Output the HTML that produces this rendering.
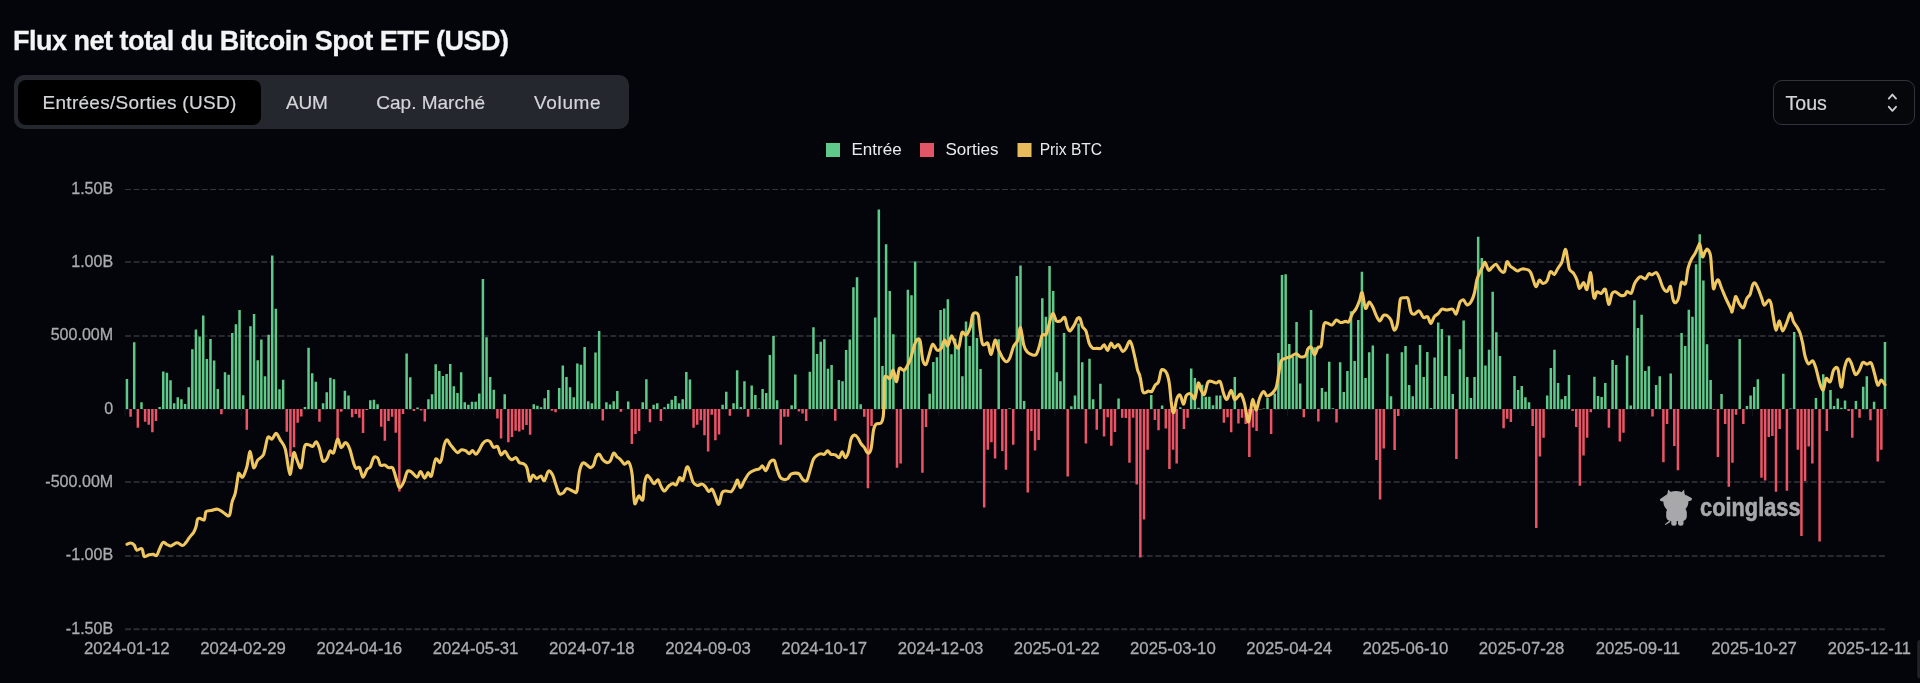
<!DOCTYPE html>
<html><head><meta charset="utf-8"><title>Flux net total du Bitcoin Spot ETF</title>
<style>
html,body{margin:0;padding:0;background:#03050a;}
body{width:1920px;height:683px;overflow:hidden;position:relative;font-family:"Liberation Sans",sans-serif;}
.title{will-change:transform;position:absolute;left:13.4px;top:23px;-webkit-text-stroke:0.3px #f3f4f6;font-size:27px;font-weight:700;color:#f3f4f6;letter-spacing:-0.51px;white-space:nowrap;line-height:36px;}
.tabs{will-change:transform;position:absolute;left:14px;top:75px;width:615px;height:54px;box-sizing:border-box;background:#24272d;border-radius:10px;}
.tab{-webkit-text-stroke:0.2px #d3d5d9;position:absolute;top:0.8px;height:54px;line-height:54px;font-size:19px;color:#d3d5d9;white-space:nowrap;}
.active{position:absolute;left:3.5px;top:4.7px;width:243.7px;height:45px;background:#000;border-radius:8px;}
.sel{will-change:transform;position:absolute;left:1773px;top:80px;width:142px;height:45px;box-sizing:border-box;border:1px solid #31343b;border-radius:9px;background:#05070b;}
.sel span{-webkit-text-stroke:0.2px #d3d5d9;position:absolute;left:11.5px;top:0.5px;line-height:43px;font-size:19.6px;color:#d3d5d9;}
svg text{font-family:"Liberation Sans",sans-serif;}
</style></head><body>
<div class="title">Flux net total du Bitcoin Spot ETF (USD)</div>
<div class="tabs"><div class="active"></div>
<div class="tab" style="left:28.5px;letter-spacing:0.29px">Entrées/Sorties (USD)</div>
<div class="tab" style="left:272px;letter-spacing:-0.2px">AUM</div>
<div class="tab" style="left:362.3px">Cap. Marché</div>
<div class="tab" style="left:520px;letter-spacing:0.66px">Volume</div>
</div>
<div class="sel"><span>Tous</span>
<svg width="14" height="22" viewBox="0 0 14 22" style="position:absolute;left:111px;top:10px"><path d="M3.8 7.6 L7.4 3.6 L11 7.6 M3.8 15.8 L7.4 19.8 L11 15.8" fill="none" stroke="#c9cbd0" stroke-width="1.9" stroke-linecap="round" stroke-linejoin="round"/></svg>
</div>
<svg width="1920" height="683" viewBox="0 0 1920 683" style="position:absolute;left:0;top:0;will-change:transform">
<g><line x1="125.08" x2="1885.2" y1="189.5" y2="189.5" stroke="#34363b" stroke-width="1" stroke-dasharray="5.95 2.564"/><line x1="125.08" x2="1885.2" y1="262" y2="262" stroke="#27292e" stroke-width="2" stroke-dasharray="5.95 2.564"/><line x1="125.08" x2="1885.2" y1="336" y2="336" stroke="#27292e" stroke-width="2" stroke-dasharray="5.95 2.564"/><line x1="125.08" x2="1885.2" y1="482" y2="482" stroke="#27292e" stroke-width="2" stroke-dasharray="5.95 2.564"/><line x1="125.08" x2="1885.2" y1="556" y2="556" stroke="#27292e" stroke-width="2" stroke-dasharray="5.95 2.564"/><line x1="125.08" x2="1885.2" y1="629.25" y2="629.25" stroke="#2c2e33" stroke-width="1.8" stroke-dasharray="5.95 2.564"/><line x1="125.08" x2="1885.2" y1="409.5" y2="409.5" stroke="#1d1f24" stroke-width="1" stroke-dasharray="5.95 2.564"/></g>
<g><line x1="125.13" x2="125.13" y1="410" y2="416" stroke="#15171c" stroke-width="1"/><line x1="241.36" x2="241.36" y1="410" y2="416" stroke="#15171c" stroke-width="1"/><line x1="357.60" x2="357.60" y1="410" y2="416" stroke="#15171c" stroke-width="1"/><line x1="473.83" x2="473.83" y1="410" y2="416" stroke="#15171c" stroke-width="1"/><line x1="590.07" x2="590.07" y1="410" y2="416" stroke="#15171c" stroke-width="1"/><line x1="706.30" x2="706.30" y1="410" y2="416" stroke="#15171c" stroke-width="1"/><line x1="822.53" x2="822.53" y1="410" y2="416" stroke="#15171c" stroke-width="1"/><line x1="938.77" x2="938.77" y1="410" y2="416" stroke="#15171c" stroke-width="1"/><line x1="1055.00" x2="1055.00" y1="410" y2="416" stroke="#15171c" stroke-width="1"/><line x1="1171.24" x2="1171.24" y1="410" y2="416" stroke="#15171c" stroke-width="1"/><line x1="1287.47" x2="1287.47" y1="410" y2="416" stroke="#15171c" stroke-width="1"/><line x1="1403.70" x2="1403.70" y1="410" y2="416" stroke="#15171c" stroke-width="1"/><line x1="1519.94" x2="1519.94" y1="410" y2="416" stroke="#15171c" stroke-width="1"/><line x1="1636.17" x2="1636.17" y1="410" y2="416" stroke="#15171c" stroke-width="1"/><line x1="1752.40" x2="1752.40" y1="410" y2="416" stroke="#15171c" stroke-width="1"/><line x1="1868.64" x2="1868.64" y1="410" y2="416" stroke="#15171c" stroke-width="1"/><line x1="1887.40" x2="1887.40" y1="410" y2="416" stroke="#15171c" stroke-width="1"/></g>
<g font-size="16.75" fill="#a9abae" stroke="#a9abae" stroke-width="0.3"><text transform="translate(113.2,193.50) scale(0.96,1)" text-anchor="end">1.50B</text><text transform="translate(113.2,266.83) scale(0.96,1)" text-anchor="end">1.00B</text><text transform="translate(113.2,340.17) scale(0.96,1)" text-anchor="end">500.00M</text><text transform="translate(113.2,413.50) scale(0.96,1)" text-anchor="end">0</text><text transform="translate(113.2,486.83) scale(0.96,1)" text-anchor="end">-500.00M</text><text transform="translate(113.2,560.17) scale(0.96,1)" text-anchor="end">-1.00B</text><text transform="translate(113.2,633.50) scale(0.96,1)" text-anchor="end">-1.50B</text><text x="126.8" y="653.8" text-anchor="middle">2024-01-12</text><text x="243.1" y="653.8" text-anchor="middle">2024-02-29</text><text x="359.3" y="653.8" text-anchor="middle">2024-04-16</text><text x="475.5" y="653.8" text-anchor="middle">2024-05-31</text><text x="591.8" y="653.8" text-anchor="middle">2024-07-18</text><text x="708.0" y="653.8" text-anchor="middle">2024-09-03</text><text x="824.2" y="653.8" text-anchor="middle">2024-10-17</text><text x="940.5" y="653.8" text-anchor="middle">2024-12-03</text><text x="1056.7" y="653.8" text-anchor="middle">2025-01-22</text><text x="1172.9" y="653.8" text-anchor="middle">2025-03-10</text><text x="1289.2" y="653.8" text-anchor="middle">2025-04-24</text><text x="1405.4" y="653.8" text-anchor="middle">2025-06-10</text><text x="1521.6" y="653.8" text-anchor="middle">2025-07-28</text><text x="1637.9" y="653.8" text-anchor="middle">2025-09-11</text><text x="1754.1" y="653.8" text-anchor="middle">2025-10-27</text><text x="1827.8" y="653.8" textLength="83" lengthAdjust="spacingAndGlyphs">2025-12-11</text></g>
<path d="M125.70 379.0h2.5V409.0h-2.5zM132.96 342.3h2.5V409.0h-2.5zM140.23 402.3h2.5V409.0h-2.5zM158.39 407.0h2.5V409.0h-2.5zM162.02 371.5h2.5V409.0h-2.5zM165.65 372.7h2.5V409.0h-2.5zM169.28 380.2h2.5V409.0h-2.5zM172.92 403.2h2.5V409.0h-2.5zM176.55 397.2h2.5V409.0h-2.5zM180.18 399.2h2.5V409.0h-2.5zM183.81 404.0h2.5V409.0h-2.5zM187.45 387.3h2.5V409.0h-2.5zM191.08 349.3h2.5V409.0h-2.5zM194.71 329.5h2.5V409.0h-2.5zM198.34 336.5h2.5V409.0h-2.5zM201.97 315.5h2.5V409.0h-2.5zM205.61 359.0h2.5V409.0h-2.5zM209.24 339.0h2.5V409.0h-2.5zM212.87 360.5h2.5V409.0h-2.5zM216.50 389.0h2.5V409.0h-2.5zM223.77 372.2h2.5V409.0h-2.5zM227.40 374.8h2.5V409.0h-2.5zM231.03 333.0h2.5V409.0h-2.5zM234.67 324.3h2.5V409.0h-2.5zM238.30 310.1h2.5V409.0h-2.5zM241.93 395.2h2.5V409.0h-2.5zM249.19 326.3h2.5V409.0h-2.5zM252.83 314.0h2.5V409.0h-2.5zM256.46 360.2h2.5V409.0h-2.5zM260.09 339.6h2.5V409.0h-2.5zM263.72 376.2h2.5V409.0h-2.5zM267.36 334.8h2.5V409.0h-2.5zM270.99 255.5h2.5V409.0h-2.5zM274.62 308.7h2.5V409.0h-2.5zM278.25 389.3h2.5V409.0h-2.5zM281.89 379.8h2.5V409.0h-2.5zM303.68 407.0h2.5V409.0h-2.5zM307.31 347.7h2.5V409.0h-2.5zM310.94 373.2h2.5V409.0h-2.5zM314.58 381.8h2.5V409.0h-2.5zM321.84 403.2h2.5V409.0h-2.5zM325.47 392.2h2.5V409.0h-2.5zM329.11 377.7h2.5V409.0h-2.5zM332.74 379.2h2.5V409.0h-2.5zM343.63 390.7h2.5V409.0h-2.5zM347.27 395.5h2.5V409.0h-2.5zM369.06 400.2h2.5V409.0h-2.5zM372.69 399.8h2.5V409.0h-2.5zM376.33 404.3h2.5V409.0h-2.5zM405.38 353.5h2.5V409.0h-2.5zM409.02 377.2h2.5V409.0h-2.5zM416.28 407.5h2.5V409.0h-2.5zM427.18 399.3h2.5V409.0h-2.5zM430.81 394.3h2.5V409.0h-2.5zM434.44 364.3h2.5V409.0h-2.5zM438.07 371.0h2.5V409.0h-2.5zM441.71 376.0h2.5V409.0h-2.5zM445.34 374.0h2.5V409.0h-2.5zM448.97 364.0h2.5V409.0h-2.5zM452.60 386.3h2.5V409.0h-2.5zM456.24 393.0h2.5V409.0h-2.5zM459.87 372.2h2.5V409.0h-2.5zM463.50 402.2h2.5V409.0h-2.5zM467.13 404.8h2.5V409.0h-2.5zM470.77 401.8h2.5V409.0h-2.5zM474.40 401.8h2.5V409.0h-2.5zM478.03 393.5h2.5V409.0h-2.5zM481.66 278.9h2.5V409.0h-2.5zM485.29 337.2h2.5V409.0h-2.5zM488.93 377.1h2.5V409.0h-2.5zM492.56 389.8h2.5V409.0h-2.5zM503.46 394.3h2.5V409.0h-2.5zM532.51 404.3h2.5V409.0h-2.5zM536.15 405.7h2.5V409.0h-2.5zM539.78 407.2h2.5V409.0h-2.5zM543.41 398.2h2.5V409.0h-2.5zM547.04 390.1h2.5V409.0h-2.5zM557.94 388.0h2.5V409.0h-2.5zM561.57 365.6h2.5V409.0h-2.5zM565.21 377.1h2.5V409.0h-2.5zM568.84 387.3h2.5V409.0h-2.5zM572.47 397.3h2.5V409.0h-2.5zM576.10 363.4h2.5V409.0h-2.5zM579.73 364.8h2.5V409.0h-2.5zM583.37 346.9h2.5V409.0h-2.5zM587.00 401.2h2.5V409.0h-2.5zM590.63 403.2h2.5V409.0h-2.5zM594.26 352.6h2.5V409.0h-2.5zM597.90 331.0h2.5V409.0h-2.5zM605.16 402.3h2.5V409.0h-2.5zM608.79 404.5h2.5V409.0h-2.5zM612.43 401.2h2.5V409.0h-2.5zM616.06 391.0h2.5V409.0h-2.5zM626.95 401.5h2.5V409.0h-2.5zM641.48 402.3h2.5V409.0h-2.5zM645.12 379.3h2.5V409.0h-2.5zM652.38 404.8h2.5V409.0h-2.5zM656.01 403.2h2.5V409.0h-2.5zM663.28 407.3h2.5V409.0h-2.5zM666.91 403.8h2.5V409.0h-2.5zM670.54 399.8h2.5V409.0h-2.5zM674.17 396.0h2.5V409.0h-2.5zM677.81 403.2h2.5V409.0h-2.5zM681.44 399.3h2.5V409.0h-2.5zM685.07 372.1h2.5V409.0h-2.5zM688.70 379.5h2.5V409.0h-2.5zM721.39 404.8h2.5V409.0h-2.5zM725.03 391.8h2.5V409.0h-2.5zM732.29 403.2h2.5V409.0h-2.5zM735.92 370.3h2.5V409.0h-2.5zM739.56 407.0h2.5V409.0h-2.5zM743.19 381.3h2.5V409.0h-2.5zM750.45 385.6h2.5V409.0h-2.5zM754.09 395.1h2.5V409.0h-2.5zM757.72 408.2h2.5V409.0h-2.5zM761.35 389.0h2.5V409.0h-2.5zM764.98 393.1h2.5V409.0h-2.5zM768.61 355.1h2.5V409.0h-2.5zM772.25 335.9h2.5V409.0h-2.5zM775.88 400.2h2.5V409.0h-2.5zM790.41 405.2h2.5V409.0h-2.5zM794.04 374.6h2.5V409.0h-2.5zM808.57 371.8h2.5V409.0h-2.5zM812.20 327.2h2.5V409.0h-2.5zM815.83 353.9h2.5V409.0h-2.5zM819.47 341.7h2.5V409.0h-2.5zM823.10 339.2h2.5V409.0h-2.5zM826.73 368.8h2.5V409.0h-2.5zM830.36 365.1h2.5V409.0h-2.5zM837.63 380.1h2.5V409.0h-2.5zM841.26 381.3h2.5V409.0h-2.5zM844.89 350.1h2.5V409.0h-2.5zM848.53 339.6h2.5V409.0h-2.5zM852.16 287.3h2.5V409.0h-2.5zM855.79 277.3h2.5V409.0h-2.5zM859.42 404.3h2.5V409.0h-2.5zM873.95 317.5h2.5V409.0h-2.5zM877.58 209.5h2.5V409.0h-2.5zM881.22 366.0h2.5V409.0h-2.5zM884.85 244.2h2.5V409.0h-2.5zM888.48 291.0h2.5V409.0h-2.5zM892.11 334.2h2.5V409.0h-2.5zM903.01 370.1h2.5V409.0h-2.5zM906.64 289.7h2.5V409.0h-2.5zM910.27 295.2h2.5V409.0h-2.5zM913.91 261.4h2.5V409.0h-2.5zM917.54 340.0h2.5V409.0h-2.5zM928.44 393.8h2.5V409.0h-2.5zM932.07 362.1h2.5V409.0h-2.5zM935.70 357.2h2.5V409.0h-2.5zM939.33 310.0h2.5V409.0h-2.5zM942.97 308.5h2.5V409.0h-2.5zM946.60 299.3h2.5V409.0h-2.5zM950.23 354.2h2.5V409.0h-2.5zM953.86 338.4h2.5V409.0h-2.5zM957.49 346.7h2.5V409.0h-2.5zM961.13 376.3h2.5V409.0h-2.5zM964.76 321.4h2.5V409.0h-2.5zM968.39 345.9h2.5V409.0h-2.5zM972.02 314.2h2.5V409.0h-2.5zM975.66 337.9h2.5V409.0h-2.5zM979.29 369.0h2.5V409.0h-2.5zM997.45 339.2h2.5V409.0h-2.5zM1008.35 408.2h2.5V409.0h-2.5zM1015.61 276.0h2.5V409.0h-2.5zM1019.24 265.4h2.5V409.0h-2.5zM1022.88 401.0h2.5V409.0h-2.5zM1041.04 298.2h2.5V409.0h-2.5zM1044.67 316.7h2.5V409.0h-2.5zM1048.30 266.0h2.5V409.0h-2.5zM1051.94 291.0h2.5V409.0h-2.5zM1055.57 372.3h2.5V409.0h-2.5zM1059.20 381.3h2.5V409.0h-2.5zM1062.83 333.0h2.5V409.0h-2.5zM1070.10 406.3h2.5V409.0h-2.5zM1073.73 395.5h2.5V409.0h-2.5zM1077.36 323.4h2.5V409.0h-2.5zM1080.99 362.3h2.5V409.0h-2.5zM1088.26 358.7h2.5V409.0h-2.5zM1091.89 399.3h2.5V409.0h-2.5zM1099.16 383.8h2.5V409.0h-2.5zM1117.32 398.5h2.5V409.0h-2.5zM1150.01 395.1h2.5V409.0h-2.5zM1160.90 405.5h2.5V409.0h-2.5zM1179.07 407.2h2.5V409.0h-2.5zM1189.96 368.4h2.5V409.0h-2.5zM1193.60 378.1h2.5V409.0h-2.5zM1197.23 407.7h2.5V409.0h-2.5zM1200.86 384.8h2.5V409.0h-2.5zM1204.49 396.8h2.5V409.0h-2.5zM1208.12 396.8h2.5V409.0h-2.5zM1211.76 405.2h2.5V409.0h-2.5zM1215.39 395.6h2.5V409.0h-2.5zM1219.02 395.6h2.5V409.0h-2.5zM1233.55 377.1h2.5V409.0h-2.5zM1262.61 408.5h2.5V409.0h-2.5zM1266.24 398.1h2.5V409.0h-2.5zM1273.51 393.5h2.5V409.0h-2.5zM1277.14 353.1h2.5V409.0h-2.5zM1280.77 275.0h2.5V409.0h-2.5zM1284.40 274.2h2.5V409.0h-2.5zM1288.04 343.9h2.5V409.0h-2.5zM1291.67 357.0h2.5V409.0h-2.5zM1295.30 322.0h2.5V409.0h-2.5zM1298.93 383.5h2.5V409.0h-2.5zM1306.20 348.4h2.5V409.0h-2.5zM1309.83 310.0h2.5V409.0h-2.5zM1313.46 347.2h2.5V409.0h-2.5zM1320.73 388.1h2.5V409.0h-2.5zM1324.36 391.8h2.5V409.0h-2.5zM1327.99 361.8h2.5V409.0h-2.5zM1331.62 408.2h2.5V409.0h-2.5zM1338.89 362.3h2.5V409.0h-2.5zM1342.52 392.1h2.5V409.0h-2.5zM1346.15 371.0h2.5V409.0h-2.5zM1349.78 311.3h2.5V409.0h-2.5zM1353.42 361.0h2.5V409.0h-2.5zM1357.05 320.0h2.5V409.0h-2.5zM1360.68 271.7h2.5V409.0h-2.5zM1364.31 378.0h2.5V409.0h-2.5zM1367.95 352.2h2.5V409.0h-2.5zM1371.58 345.4h2.5V409.0h-2.5zM1386.11 353.7h2.5V409.0h-2.5zM1389.74 396.3h2.5V409.0h-2.5zM1400.64 352.2h2.5V409.0h-2.5zM1404.27 345.9h2.5V409.0h-2.5zM1407.90 385.1h2.5V409.0h-2.5zM1411.53 396.3h2.5V409.0h-2.5zM1415.17 364.8h2.5V409.0h-2.5zM1418.80 345.1h2.5V409.0h-2.5zM1422.43 377.1h2.5V409.0h-2.5zM1426.06 352.1h2.5V409.0h-2.5zM1429.70 408.0h2.5V409.0h-2.5zM1433.33 357.6h2.5V409.0h-2.5zM1436.96 322.5h2.5V409.0h-2.5zM1440.59 328.9h2.5V409.0h-2.5zM1444.22 376.0h2.5V409.0h-2.5zM1447.86 335.4h2.5V409.0h-2.5zM1451.49 394.0h2.5V409.0h-2.5zM1458.75 349.2h2.5V409.0h-2.5zM1462.39 320.5h2.5V409.0h-2.5zM1466.02 377.1h2.5V409.0h-2.5zM1469.65 398.1h2.5V409.0h-2.5zM1473.28 377.1h2.5V409.0h-2.5zM1476.92 236.7h2.5V409.0h-2.5zM1480.55 258.1h2.5V409.0h-2.5zM1484.18 365.4h2.5V409.0h-2.5zM1487.81 349.7h2.5V409.0h-2.5zM1491.44 291.8h2.5V409.0h-2.5zM1495.08 332.2h2.5V409.0h-2.5zM1498.71 355.9h2.5V409.0h-2.5zM1513.24 376.0h2.5V409.0h-2.5zM1516.87 390.1h2.5V409.0h-2.5zM1520.50 386.0h2.5V409.0h-2.5zM1524.14 397.3h2.5V409.0h-2.5zM1527.77 402.2h2.5V409.0h-2.5zM1545.93 395.5h2.5V409.0h-2.5zM1549.56 368.1h2.5V409.0h-2.5zM1553.19 349.7h2.5V409.0h-2.5zM1556.83 383.0h2.5V409.0h-2.5zM1560.46 399.3h2.5V409.0h-2.5zM1564.09 396.1h2.5V409.0h-2.5zM1567.72 375.1h2.5V409.0h-2.5zM1593.15 376.8h2.5V409.0h-2.5zM1596.78 396.0h2.5V409.0h-2.5zM1600.41 397.1h2.5V409.0h-2.5zM1604.05 383.0h2.5V409.0h-2.5zM1611.31 360.1h2.5V409.0h-2.5zM1614.94 365.1h2.5V409.0h-2.5zM1625.84 355.6h2.5V409.0h-2.5zM1629.47 405.5h2.5V409.0h-2.5zM1633.10 300.2h2.5V409.0h-2.5zM1636.74 327.9h2.5V409.0h-2.5zM1640.37 314.7h2.5V409.0h-2.5zM1644.00 371.0h2.5V409.0h-2.5zM1647.63 366.3h2.5V409.0h-2.5zM1654.90 385.1h2.5V409.0h-2.5zM1658.53 376.3h2.5V409.0h-2.5zM1669.43 373.4h2.5V409.0h-2.5zM1680.32 333.0h2.5V409.0h-2.5zM1683.96 345.9h2.5V409.0h-2.5zM1687.59 309.7h2.5V409.0h-2.5zM1691.22 316.7h2.5V409.0h-2.5zM1694.85 264.3h2.5V409.0h-2.5zM1698.49 234.2h2.5V409.0h-2.5zM1702.12 280.6h2.5V409.0h-2.5zM1705.75 344.2h2.5V409.0h-2.5zM1709.38 380.1h2.5V409.0h-2.5zM1720.28 394.0h2.5V409.0h-2.5zM1738.44 338.9h2.5V409.0h-2.5zM1745.71 406.0h2.5V409.0h-2.5zM1749.34 395.6h2.5V409.0h-2.5zM1752.97 387.1h2.5V409.0h-2.5zM1756.60 379.3h2.5V409.0h-2.5zM1782.03 373.8h2.5V409.0h-2.5zM1789.29 408.5h2.5V409.0h-2.5zM1792.93 332.0h2.5V409.0h-2.5zM1814.72 398.0h2.5V409.0h-2.5zM1821.98 374.3h2.5V409.0h-2.5zM1829.25 390.1h2.5V409.0h-2.5zM1832.88 406.0h2.5V409.0h-2.5zM1836.51 398.5h2.5V409.0h-2.5zM1840.15 407.7h2.5V409.0h-2.5zM1843.78 400.5h2.5V409.0h-2.5zM1854.68 401.0h2.5V409.0h-2.5zM1861.94 386.8h2.5V409.0h-2.5zM1865.57 376.3h2.5V409.0h-2.5zM1872.84 401.8h2.5V409.0h-2.5zM1883.73 342.1h2.5V409.0h-2.5z" fill="#5fc98a"/>
<path d="M129.33 409.0h2.5V416.8h-2.5zM136.59 409.0h2.5V427.7h-2.5zM143.86 409.0h2.5V421.8h-2.5zM147.49 409.0h2.5V424.7h-2.5zM151.12 409.0h2.5V432.2h-2.5zM154.75 409.0h2.5V421.0h-2.5zM220.14 409.0h2.5V414.3h-2.5zM245.56 409.0h2.5V429.7h-2.5zM285.52 409.0h2.5V431.8h-2.5zM289.15 409.0h2.5V456.8h-2.5zM292.78 409.0h2.5V447.3h-2.5zM296.41 409.0h2.5V422.7h-2.5zM300.05 409.0h2.5V416.5h-2.5zM318.21 409.0h2.5V421.8h-2.5zM336.37 409.0h2.5V438.5h-2.5zM340.00 409.0h2.5V411.8h-2.5zM350.90 409.0h2.5V417.2h-2.5zM354.53 409.0h2.5V414.0h-2.5zM358.16 409.0h2.5V417.7h-2.5zM361.80 409.0h2.5V433.0h-2.5zM365.43 409.0h2.5V410.0h-2.5zM379.96 409.0h2.5V426.8h-2.5zM383.59 409.0h2.5V440.7h-2.5zM387.22 409.0h2.5V421.0h-2.5zM390.85 409.0h2.5V416.8h-2.5zM394.49 409.0h2.5V432.7h-2.5zM398.12 409.0h2.5V491.5h-2.5zM401.75 409.0h2.5V414.0h-2.5zM412.65 409.0h2.5V411.0h-2.5zM419.91 409.0h2.5V410.5h-2.5zM423.55 409.0h2.5V421.5h-2.5zM496.19 409.0h2.5V418.5h-2.5zM499.82 409.0h2.5V438.5h-2.5zM507.09 409.0h2.5V442.2h-2.5zM510.72 409.0h2.5V436.9h-2.5zM514.35 409.0h2.5V430.7h-2.5zM517.99 409.0h2.5V431.5h-2.5zM521.62 409.0h2.5V429.7h-2.5zM525.25 409.0h2.5V424.9h-2.5zM528.88 409.0h2.5V434.7h-2.5zM550.68 409.0h2.5V410.7h-2.5zM554.31 409.0h2.5V412.2h-2.5zM601.53 409.0h2.5V420.5h-2.5zM619.69 409.0h2.5V411.8h-2.5zM630.59 409.0h2.5V444.0h-2.5zM634.22 409.0h2.5V434.0h-2.5zM637.85 409.0h2.5V431.0h-2.5zM648.75 409.0h2.5V422.2h-2.5zM659.65 409.0h2.5V421.0h-2.5zM692.34 409.0h2.5V427.7h-2.5zM695.97 409.0h2.5V424.7h-2.5zM699.60 409.0h2.5V420.2h-2.5zM703.23 409.0h2.5V435.2h-2.5zM706.87 409.0h2.5V451.4h-2.5zM710.50 409.0h2.5V414.8h-2.5zM714.13 409.0h2.5V440.2h-2.5zM717.76 409.0h2.5V434.4h-2.5zM728.66 409.0h2.5V415.7h-2.5zM746.82 409.0h2.5V416.8h-2.5zM779.51 409.0h2.5V444.7h-2.5zM783.14 409.0h2.5V416.8h-2.5zM786.78 409.0h2.5V416.8h-2.5zM797.67 409.0h2.5V411.5h-2.5zM801.31 409.0h2.5V413.5h-2.5zM804.94 409.0h2.5V421.0h-2.5zM834.00 409.0h2.5V420.7h-2.5zM863.05 409.0h2.5V416.8h-2.5zM866.69 409.0h2.5V488.3h-2.5zM870.32 409.0h2.5V426.0h-2.5zM895.75 409.0h2.5V467.8h-2.5zM899.38 409.0h2.5V463.6h-2.5zM921.17 409.0h2.5V472.8h-2.5zM924.80 409.0h2.5V426.9h-2.5zM982.92 409.0h2.5V507.5h-2.5zM986.55 409.0h2.5V449.7h-2.5zM990.19 409.0h2.5V442.2h-2.5zM993.82 409.0h2.5V458.6h-2.5zM1001.08 409.0h2.5V451.0h-2.5zM1004.72 409.0h2.5V469.8h-2.5zM1011.98 409.0h2.5V444.7h-2.5zM1026.51 409.0h2.5V492.5h-2.5zM1030.14 409.0h2.5V431.0h-2.5zM1033.77 409.0h2.5V450.6h-2.5zM1037.41 409.0h2.5V439.9h-2.5zM1066.46 409.0h2.5V476.4h-2.5zM1084.63 409.0h2.5V443.6h-2.5zM1095.52 409.0h2.5V429.7h-2.5zM1102.79 409.0h2.5V436.4h-2.5zM1106.42 409.0h2.5V417.3h-2.5zM1110.05 409.0h2.5V445.7h-2.5zM1113.68 409.0h2.5V431.9h-2.5zM1120.95 409.0h2.5V417.7h-2.5zM1124.58 409.0h2.5V418.0h-2.5zM1128.21 409.0h2.5V462.8h-2.5zM1131.85 409.0h2.5V417.7h-2.5zM1135.48 409.0h2.5V484.6h-2.5zM1139.11 409.0h2.5V557.6h-2.5zM1142.74 409.0h2.5V519.6h-2.5zM1146.38 409.0h2.5V449.7h-2.5zM1153.64 409.0h2.5V419.9h-2.5zM1157.27 409.0h2.5V430.2h-2.5zM1164.54 409.0h2.5V428.5h-2.5zM1168.17 409.0h2.5V469.1h-2.5zM1171.80 409.0h2.5V449.7h-2.5zM1175.43 409.0h2.5V463.6h-2.5zM1182.70 409.0h2.5V428.9h-2.5zM1186.33 409.0h2.5V417.7h-2.5zM1222.65 409.0h2.5V422.7h-2.5zM1226.29 409.0h2.5V417.3h-2.5zM1229.92 409.0h2.5V432.2h-2.5zM1237.18 409.0h2.5V423.5h-2.5zM1240.82 409.0h2.5V417.7h-2.5zM1244.45 409.0h2.5V424.0h-2.5zM1248.08 409.0h2.5V456.9h-2.5zM1251.71 409.0h2.5V427.4h-2.5zM1255.34 409.0h2.5V431.0h-2.5zM1258.98 409.0h2.5V409.5h-2.5zM1269.87 409.0h2.5V434.0h-2.5zM1302.56 409.0h2.5V417.2h-2.5zM1317.09 409.0h2.5V421.5h-2.5zM1335.26 409.0h2.5V422.4h-2.5zM1375.21 409.0h2.5V459.9h-2.5zM1378.84 409.0h2.5V499.5h-2.5zM1382.48 409.0h2.5V448.6h-2.5zM1393.37 409.0h2.5V449.9h-2.5zM1397.00 409.0h2.5V416.0h-2.5zM1455.12 409.0h2.5V459.1h-2.5zM1502.34 409.0h2.5V428.2h-2.5zM1505.97 409.0h2.5V418.8h-2.5zM1509.61 409.0h2.5V421.9h-2.5zM1531.40 409.0h2.5V426.0h-2.5zM1535.03 409.0h2.5V527.9h-2.5zM1538.66 409.0h2.5V456.6h-2.5zM1542.30 409.0h2.5V437.7h-2.5zM1571.36 409.0h2.5V411.0h-2.5zM1574.99 409.0h2.5V426.9h-2.5zM1578.62 409.0h2.5V485.8h-2.5zM1582.25 409.0h2.5V455.6h-2.5zM1585.88 409.0h2.5V437.7h-2.5zM1589.52 409.0h2.5V412.3h-2.5zM1607.68 409.0h2.5V427.7h-2.5zM1618.58 409.0h2.5V441.6h-2.5zM1622.21 409.0h2.5V432.7h-2.5zM1651.27 409.0h2.5V416.5h-2.5zM1662.16 409.0h2.5V462.3h-2.5zM1665.80 409.0h2.5V424.0h-2.5zM1673.06 409.0h2.5V446.1h-2.5zM1676.69 409.0h2.5V470.3h-2.5zM1713.02 409.0h2.5V409.8h-2.5zM1716.65 409.0h2.5V456.9h-2.5zM1723.91 409.0h2.5V424.0h-2.5zM1727.54 409.0h2.5V486.8h-2.5zM1731.18 409.0h2.5V462.8h-2.5zM1734.81 409.0h2.5V414.8h-2.5zM1742.07 409.0h2.5V423.9h-2.5zM1760.24 409.0h2.5V477.8h-2.5zM1763.87 409.0h2.5V480.5h-2.5zM1767.50 409.0h2.5V436.9h-2.5zM1771.13 409.0h2.5V436.0h-2.5zM1774.76 409.0h2.5V491.8h-2.5zM1778.40 409.0h2.5V428.9h-2.5zM1785.66 409.0h2.5V490.8h-2.5zM1796.56 409.0h2.5V449.7h-2.5zM1800.19 409.0h2.5V535.9h-2.5zM1803.82 409.0h2.5V481.0h-2.5zM1807.46 409.0h2.5V446.4h-2.5zM1811.09 409.0h2.5V463.6h-2.5zM1818.35 409.0h2.5V541.5h-2.5zM1825.62 409.0h2.5V431.0h-2.5zM1847.41 409.0h2.5V411.0h-2.5zM1851.04 409.0h2.5V437.7h-2.5zM1858.31 409.0h2.5V417.7h-2.5zM1869.20 409.0h2.5V420.2h-2.5zM1876.47 409.0h2.5V461.6h-2.5zM1880.10 409.0h2.5V449.7h-2.5z" fill="#ea5466"/>
<path d="M127.0 544.3C127.7 544.1 129.7 542.8 130.9 543.0C132.0 543.1 133.2 543.9 134.2 545.1C135.2 546.3 135.6 549.6 136.7 550.1C137.8 550.7 139.9 548.5 140.9 548.5C141.8 548.4 142.0 548.5 142.5 549.8C143.1 551.1 143.1 555.6 144.2 556.5C145.3 557.3 147.7 555.2 149.2 554.8C150.7 554.4 152.1 554.2 153.4 554.3C154.6 554.4 155.6 556.6 156.7 555.5C157.8 554.4 159.0 549.8 160.1 547.6C161.1 545.4 162.0 542.8 163.1 542.3C164.2 541.7 165.4 543.7 166.7 544.3C168.1 544.9 169.4 546.2 170.9 546.0C172.4 545.7 174.7 543.4 175.9 543.0C177.2 542.5 177.3 542.7 178.4 543.1C179.5 543.5 181.4 545.5 182.6 545.5C183.9 545.4 184.8 543.9 185.9 542.6C187.1 541.3 188.0 539.3 189.3 537.6C190.5 535.9 192.3 534.4 193.5 532.6C194.6 530.8 195.3 529.0 196.0 526.8C196.7 524.5 196.9 520.6 197.6 519.2C198.3 517.9 199.0 518.3 200.1 518.4C201.2 518.5 203.3 520.9 204.3 519.7C205.3 518.6 204.9 513.3 206.0 511.7C207.1 510.2 209.0 511.0 211.0 510.6C212.9 510.2 215.6 508.9 217.7 509.2C219.7 509.6 221.6 511.5 223.5 512.6C225.5 513.6 228.0 517.2 229.3 515.6C230.7 513.9 230.9 506.3 231.9 502.6C232.8 498.9 234.2 497.4 235.2 493.4C236.2 489.3 237.1 481.7 237.7 478.3C238.3 475.0 238.0 473.2 238.9 473.0C239.7 472.8 241.4 478.2 242.7 477.1C244.0 476.1 245.6 471.1 246.9 466.8C248.1 462.5 249.1 451.3 250.2 451.4C251.3 451.6 252.3 466.2 253.6 467.6C254.8 469.1 256.1 462.3 257.7 460.1C259.4 457.9 261.9 458.0 263.6 454.3C265.2 450.5 266.4 440.1 267.7 437.6C269.1 435.1 270.5 439.9 271.9 439.2C273.3 438.5 274.7 433.2 276.1 433.4C277.5 433.5 278.7 437.4 280.3 440.1C281.8 442.7 283.7 443.5 285.3 449.2C286.9 455.0 288.6 473.7 289.9 474.3C291.3 474.9 292.5 455.5 293.6 453.1C294.8 450.7 295.7 457.7 297.0 460.1C298.2 462.5 299.9 469.8 301.1 467.6C302.4 465.4 303.2 450.6 304.5 446.7C305.7 442.9 307.3 444.8 308.6 444.7C310.0 444.7 311.6 446.9 312.8 446.4C314.1 445.9 315.0 441.4 316.2 441.7C317.3 442.1 318.4 445.2 319.5 448.4C320.6 451.6 321.6 459.3 322.8 460.9C324.1 462.6 325.8 460.1 327.0 458.4C328.2 456.8 328.9 451.9 330.0 450.9C331.1 449.9 332.4 454.5 333.7 452.6C334.9 450.6 336.3 440.1 337.5 439.2C338.8 438.4 339.9 447.0 341.2 447.6C342.5 448.1 344.0 442.4 345.4 442.6C346.8 442.7 348.2 444.9 349.5 448.4C350.9 451.9 352.6 460.1 353.7 463.4C354.8 466.8 355.3 467.8 356.2 468.4C357.2 469.1 358.5 466.2 359.6 467.6C360.7 469.1 361.7 476.9 362.9 477.1C364.2 477.4 365.8 471.0 367.1 469.3C368.3 467.6 369.3 468.7 370.4 466.8C371.5 464.8 372.5 459.0 373.8 457.6C375.0 456.2 376.8 457.2 377.9 458.4C379.0 459.7 379.3 464.0 380.4 465.1C381.5 466.2 383.2 464.7 384.6 465.1C386.0 465.5 387.4 467.1 388.8 467.6C390.2 468.2 391.6 466.1 393.0 468.4C394.3 470.8 396.0 478.6 397.1 481.8C398.2 485.0 398.5 487.6 399.6 487.6C400.7 487.6 402.6 484.4 403.8 481.8C405.1 479.2 405.9 473.5 407.1 471.8C408.4 470.1 409.6 470.9 411.3 471.8C413.0 472.7 415.6 477.2 417.2 477.1C418.7 477.1 419.2 471.3 420.5 471.5C421.8 471.6 423.4 477.9 424.7 478.1C425.9 478.3 426.9 473.0 428.0 472.6C429.1 472.3 430.1 478.2 431.4 476.0C432.6 473.7 434.1 461.5 435.5 459.3C436.9 457.0 438.7 462.7 439.7 462.6C440.7 462.5 440.9 461.4 441.7 458.4C442.4 455.5 443.3 448.2 444.2 445.1C445.1 442.0 446.0 439.9 447.0 439.7C448.0 439.6 449.0 442.8 450.0 444.2C451.1 445.7 452.1 447.0 453.4 448.4C454.6 449.8 456.1 452.4 457.5 452.6C458.9 452.8 460.3 450.0 461.7 449.7C463.1 449.5 464.6 450.3 465.9 450.9C467.1 451.6 468.1 453.8 469.2 453.8C470.3 453.7 471.4 450.5 472.6 450.6C473.7 450.7 474.8 454.3 475.9 454.3C477.0 454.2 478.1 451.8 479.2 450.1C480.4 448.3 481.3 445.3 482.6 443.7C483.8 442.2 485.5 440.9 486.8 440.6C488.0 440.2 489.0 440.6 490.1 441.7C491.2 442.8 492.2 446.4 493.4 447.2C494.7 448.1 496.4 445.5 497.6 446.7C498.9 448.0 499.7 454.0 500.9 454.8C502.2 455.5 503.9 450.9 505.1 451.3C506.4 451.6 507.3 455.3 508.5 456.8C509.6 458.2 510.5 459.6 511.8 459.8C513.0 459.9 514.7 457.1 516.0 457.6C517.2 458.1 518.1 461.6 519.3 462.6C520.6 463.6 522.2 462.9 523.5 463.8C524.7 464.6 525.8 464.7 526.8 467.6C527.9 470.5 528.9 479.7 529.8 481.0C530.8 482.2 531.5 475.5 532.7 475.1C533.8 474.7 535.4 478.3 536.8 478.5C538.2 478.6 539.8 475.6 541.0 476.0C542.3 476.3 543.1 481.5 544.3 480.6C545.6 479.8 547.1 471.9 548.5 471.0C549.9 470.0 551.4 472.8 552.7 475.1C553.9 477.5 554.9 482.0 556.0 485.1C557.1 488.3 558.1 492.6 559.4 493.8C560.6 495.1 562.3 493.5 563.5 492.7C564.8 491.8 565.2 488.7 566.9 488.5C568.6 488.3 571.9 491.1 573.6 491.5C575.2 491.9 575.9 494.3 576.9 491.0C577.9 487.7 578.4 476.4 579.4 471.8C580.4 467.1 581.6 464.4 582.7 463.1C583.9 461.9 584.8 463.5 586.1 464.3C587.3 465.0 589.0 467.5 590.3 467.6C591.5 467.8 592.6 466.9 593.6 465.1C594.6 463.3 595.1 458.6 596.1 456.8C597.1 455.0 598.3 453.8 599.4 454.3C600.6 454.8 601.5 458.4 602.8 459.8C604.0 461.2 605.7 462.4 607.0 462.6C608.2 462.8 609.2 462.5 610.3 460.9C611.4 459.3 612.5 453.8 613.6 453.1C614.7 452.4 615.9 455.7 617.0 456.8C618.1 457.8 619.1 458.0 620.3 459.3C621.6 460.5 623.1 463.8 624.5 464.3C625.9 464.7 627.4 460.6 628.7 462.1C629.9 463.6 631.1 467.4 632.0 473.5C632.9 479.5 633.4 493.4 634.0 498.5C634.6 503.6 634.6 504.3 635.3 503.8C636.1 503.4 637.4 496.7 638.7 496.0C639.9 495.3 641.9 501.9 642.8 499.8C643.8 497.7 643.8 487.5 644.5 483.5C645.2 479.4 646.0 476.5 647.0 475.6C648.0 474.8 649.2 477.1 650.4 478.5C651.5 479.8 652.8 483.6 654.0 483.8C655.3 484.0 656.7 479.3 657.9 479.8C659.1 480.3 660.1 484.9 661.2 486.8C662.3 488.7 663.3 491.1 664.5 491.0C665.8 490.8 667.3 487.2 668.7 486.0C670.1 484.7 671.6 483.7 672.9 483.5C674.1 483.3 675.1 485.8 676.2 484.8C677.3 483.8 678.5 478.4 679.6 477.6C680.7 476.9 681.7 481.9 682.9 480.1C684.1 478.4 685.6 468.6 686.8 467.1C687.9 465.6 688.6 468.5 689.6 471.0C690.6 473.4 691.7 479.4 692.9 481.8C694.2 484.2 695.6 485.1 697.1 485.5C698.6 485.8 700.7 483.8 702.1 484.0C703.5 484.2 704.3 485.6 705.5 486.8C706.6 488.1 707.7 491.1 708.8 491.5C709.9 491.9 711.0 488.4 712.1 489.3C713.2 490.2 714.4 494.3 715.5 496.8C716.6 499.3 717.7 505.0 718.8 504.3C719.9 503.6 720.9 494.9 722.1 492.7C723.4 490.4 724.8 491.2 726.3 491.0C727.8 490.8 729.8 492.6 731.3 491.5C732.9 490.4 734.5 486.2 735.5 484.3C736.5 482.4 736.7 479.6 737.5 480.1C738.3 480.7 739.5 487.4 740.5 487.6C741.6 487.9 742.5 484.2 743.8 481.8C745.2 479.4 747.0 475.4 748.9 473.5C750.7 471.5 753.0 470.9 754.7 470.1C756.4 469.4 757.9 469.6 759.2 468.9C760.5 468.3 761.4 465.7 762.5 465.9C763.6 466.2 764.6 471.1 765.9 470.5C767.1 469.8 768.6 463.8 770.0 462.1C771.4 460.4 773.1 459.4 774.2 460.4C775.3 461.5 775.7 465.7 776.7 468.4C777.7 471.2 778.9 475.3 780.1 477.1C781.2 478.9 782.1 479.0 783.4 479.3C784.6 479.6 786.3 479.6 787.6 478.8C788.8 478.0 789.6 475.2 790.9 474.3C792.2 473.3 793.7 473.2 795.1 473.1C796.5 473.1 798.0 472.9 799.2 474.0C800.5 475.0 801.3 478.2 802.6 479.3C803.8 480.4 805.5 482.2 806.8 480.6C808.0 479.1 809.0 473.7 810.1 470.1C811.2 466.6 812.2 461.8 813.4 459.3C814.7 456.8 816.4 456.0 817.6 455.1C818.9 454.2 819.8 453.9 821.0 453.8C822.1 453.6 823.2 454.7 824.3 454.3C825.4 453.8 826.5 450.9 827.6 450.9C828.7 450.9 829.7 453.6 831.0 454.3C832.2 454.9 833.8 454.2 835.1 454.8C836.5 455.3 838.1 458.1 839.3 457.6C840.5 457.1 841.1 451.8 842.2 451.8C843.2 451.8 844.4 457.6 845.5 457.6C846.5 457.6 847.6 454.8 848.5 451.8C849.4 448.7 850.0 442.0 851.0 439.2C852.0 436.4 853.2 435.3 854.3 435.1C855.5 434.8 856.6 436.1 857.7 437.6C858.8 439.0 859.9 442.1 861.0 443.7C862.1 445.4 863.2 446.0 864.4 447.6C865.5 449.1 866.6 452.8 867.7 453.1C868.8 453.4 870.1 453.1 871.0 449.2C872.0 445.4 872.7 434.2 873.5 430.1C874.4 425.9 874.8 425.4 876.0 424.2C877.3 423.0 879.9 424.3 881.1 423.0C882.2 421.8 882.7 420.5 883.2 416.7C883.7 412.9 883.9 406.4 884.1 400.0C884.3 393.6 883.9 382.3 884.4 378.5C884.9 374.6 885.9 376.8 886.9 376.8C887.9 376.8 889.2 379.6 890.2 378.5C891.3 377.4 892.2 369.6 893.2 370.1C894.3 370.7 895.5 382.1 896.6 381.8C897.6 381.5 898.1 370.4 899.4 368.4C900.7 366.5 902.6 371.6 904.4 370.1C906.2 368.6 908.6 363.4 910.3 359.3C911.9 355.1 913.2 348.4 914.4 345.1C915.7 341.7 916.8 339.8 917.8 339.2C918.8 338.7 919.4 338.3 920.3 341.7C921.1 345.2 921.8 356.3 922.8 360.1C923.8 363.9 925.0 365.4 926.1 364.3C927.2 363.2 928.4 356.8 929.5 353.4C930.6 350.1 931.6 344.8 932.8 344.2C934.1 343.7 935.6 349.4 937.0 350.1C938.4 350.8 939.9 350.1 941.2 348.4C942.4 346.7 943.4 340.5 944.5 340.1C945.6 339.6 946.7 346.6 947.8 345.9C949.0 345.2 950.3 336.2 951.5 335.9C952.8 335.6 954.1 342.3 955.3 344.2C956.5 346.2 957.6 349.5 958.7 347.6C959.8 345.6 960.8 334.6 962.0 332.6C963.3 330.5 964.8 336.0 966.2 335.1C967.6 334.1 969.3 330.2 970.4 326.7C971.5 323.2 971.6 316.3 972.9 314.2C974.1 312.1 976.8 312.4 977.9 314.2C979.0 316.0 978.9 320.3 979.5 325.0C980.2 329.8 981.2 339.3 982.1 342.6C982.9 345.9 983.6 344.6 984.6 344.7C985.5 344.9 986.8 341.8 987.9 343.4C989.0 345.0 990.0 354.8 991.2 354.3C992.4 353.7 993.8 340.8 995.1 340.1C996.3 339.4 997.4 347.0 998.7 350.1C1000.1 353.1 1001.7 356.5 1002.9 358.4C1004.2 360.4 1005.1 361.8 1006.3 361.8C1007.4 361.8 1008.3 361.1 1009.6 358.4C1010.9 355.8 1012.4 349.0 1013.8 345.9C1015.2 342.8 1016.8 343.1 1017.9 340.1C1019.1 337.0 1019.5 326.7 1020.5 327.5C1021.4 328.4 1022.7 341.0 1023.8 345.1C1024.9 349.1 1025.7 350.1 1027.1 351.8C1028.5 353.4 1030.6 354.3 1032.1 354.8C1033.7 355.2 1035.1 355.9 1036.3 354.3C1037.6 352.6 1038.7 348.3 1039.6 345.1C1040.6 341.9 1041.0 336.9 1042.2 335.1C1043.3 333.2 1045.1 336.4 1046.3 334.2C1047.6 332.0 1048.6 325.2 1049.7 321.7C1050.8 318.2 1051.9 313.5 1053.0 313.4C1054.1 313.2 1055.1 319.6 1056.3 320.9C1057.6 322.1 1059.1 321.4 1060.5 320.9C1061.9 320.3 1063.6 316.6 1064.7 317.5C1065.8 318.5 1066.3 324.5 1067.2 326.7C1068.1 328.9 1068.9 331.2 1070.0 330.9C1071.2 330.6 1072.9 327.1 1074.2 325.0C1075.4 323.0 1076.5 319.5 1077.5 318.4C1078.5 317.3 1079.2 317.0 1080.0 318.4C1080.9 319.8 1081.6 324.6 1082.5 326.7C1083.5 328.8 1084.8 328.1 1085.9 330.9C1087.0 333.7 1088.1 340.5 1089.2 343.4C1090.3 346.3 1091.3 347.2 1092.5 348.1C1093.8 348.9 1095.3 348.4 1096.7 348.4C1098.1 348.5 1099.6 349.0 1100.9 348.4C1102.1 347.8 1103.1 344.4 1104.2 344.7C1105.3 345.1 1106.5 350.7 1107.6 350.4C1108.7 350.1 1109.8 343.5 1110.9 343.1C1112.0 342.6 1113.0 347.3 1114.2 347.6C1115.5 347.9 1117.0 344.1 1118.4 344.7C1119.8 345.4 1121.3 350.8 1122.6 351.4C1123.8 352.0 1124.8 350.1 1125.9 348.4C1127.0 346.7 1128.3 342.0 1129.3 341.4C1130.2 340.8 1130.8 341.9 1131.8 344.7C1132.8 347.6 1134.1 354.2 1135.1 358.4C1136.1 362.7 1136.8 367.1 1137.6 370.1C1138.5 373.2 1139.3 373.3 1140.1 376.8C1141.0 380.3 1141.8 388.3 1142.6 391.0C1143.5 393.6 1144.2 392.7 1145.1 392.7C1146.1 392.7 1147.4 391.2 1148.5 391.0C1149.6 390.8 1150.7 392.5 1151.8 391.5C1152.9 390.5 1154.0 386.8 1155.2 385.1C1156.3 383.5 1157.5 384.2 1158.5 381.8C1159.5 379.4 1160.2 373.0 1161.0 371.0C1161.8 368.9 1162.5 369.4 1163.5 369.8C1164.5 370.2 1165.9 371.2 1166.8 373.5C1167.8 375.7 1168.6 379.0 1169.3 383.5C1170.0 387.9 1170.5 395.5 1171.0 400.2C1171.6 404.8 1172.1 409.7 1172.7 411.5C1173.2 413.3 1173.7 413.2 1174.3 411.0C1175.0 408.8 1175.9 401.1 1176.9 398.5C1177.8 395.9 1179.1 394.2 1180.2 395.2C1181.3 396.1 1182.6 404.2 1183.5 404.3C1184.5 404.5 1185.1 397.8 1186.0 396.0C1187.0 394.2 1188.4 393.6 1189.4 393.5C1190.3 393.4 1191.0 394.3 1191.9 395.2C1192.8 396.0 1193.8 400.5 1194.9 398.5C1195.9 396.5 1197.2 384.5 1198.2 383.1C1199.3 381.7 1200.0 388.3 1201.1 390.2C1202.1 392.0 1203.3 395.6 1204.4 394.3C1205.5 393.1 1206.6 384.8 1207.7 382.6C1208.9 380.5 1209.7 381.2 1211.1 381.3C1212.5 381.4 1214.6 382.9 1216.1 383.0C1217.6 383.1 1219.0 380.1 1220.3 381.8C1221.5 383.6 1222.5 390.6 1223.6 393.5C1224.7 396.4 1225.7 399.9 1226.9 399.3C1228.2 398.8 1229.9 390.2 1231.1 390.2C1232.4 390.2 1233.3 398.2 1234.4 399.3C1235.6 400.4 1236.7 397.7 1237.8 396.8C1238.9 396.0 1240.0 393.2 1241.1 394.3C1242.2 395.4 1243.5 399.7 1244.5 403.5C1245.4 407.3 1246.3 413.8 1247.0 416.9C1247.7 419.9 1248.0 422.7 1248.6 421.7C1249.3 420.7 1249.9 414.7 1250.6 411.0C1251.3 407.3 1251.9 399.5 1252.8 399.3C1253.7 399.2 1255.0 410.3 1256.2 410.2C1257.3 410.0 1258.2 401.6 1259.5 398.5C1260.7 395.4 1262.4 391.9 1263.7 391.5C1264.9 391.1 1265.6 395.7 1267.0 396.0C1268.4 396.3 1270.5 394.9 1272.0 393.5C1273.5 392.1 1275.1 391.0 1276.2 387.6C1277.3 384.3 1277.9 377.9 1278.7 373.5C1279.5 369.0 1280.1 363.4 1281.2 360.9C1282.3 358.4 1283.8 359.1 1285.4 358.4C1286.9 357.7 1288.6 357.5 1290.4 356.8C1292.2 356.0 1294.5 353.8 1296.2 353.8C1297.9 353.8 1298.9 356.4 1300.4 356.8C1301.9 357.1 1304.1 357.2 1305.4 355.9C1306.7 354.7 1306.9 350.7 1307.9 349.2C1308.9 347.8 1310.1 346.3 1311.2 347.2C1312.4 348.2 1313.5 354.7 1314.6 354.8C1315.7 354.8 1316.8 349.2 1317.9 347.6C1319.0 346.0 1320.3 348.8 1321.3 345.1C1322.2 341.3 1322.8 328.7 1323.8 325.0C1324.7 321.4 1325.7 323.0 1327.1 323.0C1328.5 323.0 1330.6 325.5 1332.1 325.0C1333.6 324.5 1334.9 320.5 1336.3 320.0C1337.7 319.6 1338.9 322.3 1340.5 322.5C1342.0 322.8 1344.1 321.5 1345.5 321.4C1346.9 321.2 1347.7 322.9 1348.8 321.7C1349.9 320.5 1350.9 316.4 1352.1 314.2C1353.4 312.0 1355.1 310.7 1356.3 308.3C1357.6 306.0 1358.7 302.6 1359.7 300.0C1360.6 297.4 1361.2 291.3 1362.2 292.7C1363.1 294.0 1364.3 306.8 1365.5 308.3C1366.7 309.9 1367.9 302.1 1369.2 302.0C1370.4 301.9 1371.8 305.2 1373.0 307.5C1374.2 309.8 1375.2 313.6 1376.4 315.9C1377.5 318.1 1378.6 320.9 1379.7 320.9C1380.8 320.9 1382.1 316.8 1383.0 315.9C1383.9 314.9 1384.3 315.0 1385.0 315.0C1385.8 315.0 1386.5 315.0 1387.5 315.9C1388.5 316.7 1389.7 317.7 1390.9 320.0C1392.0 322.4 1393.1 329.5 1394.2 330.1C1395.3 330.6 1396.6 327.8 1397.5 323.4C1398.4 318.9 1399.1 307.5 1399.7 303.3C1400.3 299.2 1400.0 299.2 1400.9 298.3C1401.8 297.4 1403.8 297.8 1405.0 297.8C1406.2 297.9 1407.1 296.4 1408.0 298.7C1409.0 301.0 1409.9 309.1 1410.9 311.7C1411.9 314.3 1412.8 314.3 1414.2 314.2C1415.6 314.1 1417.7 310.3 1419.2 310.9C1420.8 311.4 1422.0 316.6 1423.4 317.5C1424.8 318.5 1426.3 315.7 1427.6 316.7C1428.8 317.7 1429.8 323.4 1430.9 323.4C1432.0 323.4 1433.0 318.4 1434.3 316.7C1435.5 315.0 1437.2 314.6 1438.4 313.4C1439.7 312.1 1440.4 309.7 1441.8 309.2C1443.2 308.6 1445.0 310.0 1446.8 310.0C1448.6 310.0 1451.1 308.5 1452.6 309.2C1454.2 309.9 1455.0 314.6 1456.0 314.2C1456.9 313.8 1457.8 308.7 1458.5 306.7C1459.2 304.6 1459.3 303.0 1460.1 301.8C1461.0 300.7 1462.4 299.3 1463.5 299.8C1464.6 300.3 1465.6 304.5 1466.8 304.8C1468.1 305.2 1469.7 303.7 1471.0 301.8C1472.2 299.9 1473.4 297.1 1474.3 293.5C1475.3 289.9 1476.0 283.5 1476.8 280.1C1477.7 276.8 1478.4 275.7 1479.3 273.5C1480.3 271.2 1481.7 268.7 1482.7 266.8C1483.6 264.9 1484.2 261.7 1485.2 262.3C1486.1 262.8 1487.4 269.2 1488.5 270.1C1489.6 271.0 1490.6 268.6 1491.9 267.6C1493.1 266.6 1494.6 263.9 1496.0 264.3C1497.4 264.7 1498.8 268.9 1500.2 270.1C1501.6 271.4 1503.3 273.2 1504.4 271.8C1505.5 270.4 1505.9 262.8 1506.9 261.8C1507.9 260.8 1509.1 264.8 1510.2 266.0C1511.3 267.1 1512.3 267.6 1513.6 268.5C1514.8 269.3 1516.3 270.9 1517.7 271.0C1519.1 271.0 1520.1 269.1 1521.9 269.0C1523.7 268.8 1527.1 269.4 1528.6 270.1C1530.1 270.9 1530.3 271.7 1531.1 273.5C1531.9 275.3 1532.8 278.8 1533.6 281.0C1534.4 283.2 1535.1 287.0 1536.1 286.8C1537.1 286.7 1538.3 280.7 1539.4 280.1C1540.5 279.6 1541.5 283.3 1542.8 283.5C1544.0 283.6 1545.7 282.9 1546.9 281.0C1548.2 279.0 1549.0 272.9 1550.3 271.8C1551.5 270.7 1553.2 274.9 1554.5 274.3C1555.7 273.7 1556.5 270.5 1557.8 268.5C1559.0 266.4 1560.7 265.0 1562.0 261.8C1563.2 258.6 1564.3 249.5 1565.3 249.3C1566.3 249.0 1567.1 256.8 1567.8 260.1C1568.5 263.4 1568.5 267.1 1569.5 269.3C1570.5 271.5 1572.4 271.7 1573.7 273.5C1574.9 275.3 1576.0 277.6 1577.0 280.1C1578.0 282.6 1578.4 288.1 1579.5 288.5C1580.6 288.9 1582.4 282.5 1583.7 282.6C1584.9 282.8 1585.8 291.0 1587.0 289.3C1588.2 287.7 1589.7 272.2 1590.7 272.6C1591.7 273.0 1592.2 287.5 1592.9 291.8C1593.5 296.1 1593.8 298.5 1594.5 298.5C1595.2 298.5 1595.9 292.7 1597.0 291.8C1598.1 291.0 1599.8 293.9 1601.2 293.5C1602.6 293.1 1604.1 287.5 1605.4 289.3C1606.6 291.1 1607.6 303.7 1608.7 304.3C1609.8 305.0 1610.9 295.6 1612.1 293.5C1613.2 291.4 1614.0 291.5 1615.4 291.8C1616.8 292.1 1618.9 294.6 1620.4 295.2C1621.9 295.7 1623.5 295.8 1624.6 295.2C1625.7 294.6 1626.0 291.8 1627.1 291.5C1628.2 291.2 1630.0 294.5 1631.3 293.2C1632.5 291.8 1633.3 286.1 1634.6 283.5C1635.8 280.9 1637.7 278.8 1638.8 277.6C1639.9 276.5 1640.2 276.6 1641.3 276.8C1642.4 277.0 1644.2 279.3 1645.4 278.8C1646.7 278.3 1647.7 274.5 1648.8 273.8C1649.9 273.1 1650.9 275.0 1652.1 274.8C1653.4 274.6 1655.0 272.0 1656.3 272.6C1657.5 273.2 1658.5 276.0 1659.6 278.5C1660.7 281.0 1661.7 285.5 1663.0 287.7C1664.2 289.8 1665.9 291.7 1667.1 291.5C1668.4 291.3 1669.5 285.2 1670.5 286.5C1671.5 287.8 1672.2 296.6 1673.0 299.3C1673.8 302.0 1674.5 303.1 1675.5 302.7C1676.5 302.3 1677.9 300.2 1678.8 296.8C1679.8 293.5 1680.2 284.9 1681.3 282.6C1682.4 280.4 1684.4 285.8 1685.5 283.5C1686.6 281.1 1687.0 272.5 1688.0 268.5C1689.0 264.4 1690.1 261.9 1691.4 259.3C1692.6 256.6 1694.3 255.0 1695.5 252.6C1696.8 250.2 1698.1 246.4 1698.9 245.1C1699.6 243.8 1699.4 242.8 1700.0 244.7C1700.6 246.7 1701.7 255.6 1702.5 256.8C1703.3 257.9 1704.2 253.0 1705.0 251.8C1705.9 250.5 1706.6 248.7 1707.5 249.3C1708.4 249.8 1709.7 251.6 1710.4 255.1C1711.1 258.6 1711.2 264.6 1711.7 270.1C1712.2 275.7 1712.7 286.4 1713.4 288.5C1714.1 290.6 1715.0 284.0 1715.9 282.6C1716.7 281.3 1717.4 279.2 1718.4 280.1C1719.3 281.1 1720.5 285.4 1721.7 288.5C1723.0 291.5 1724.4 295.1 1725.9 298.5C1727.4 301.9 1729.9 306.8 1730.9 309.0C1731.9 311.2 1731.5 312.9 1732.1 311.7C1732.6 310.5 1733.6 304.4 1734.2 301.8C1734.9 299.3 1735.1 296.2 1735.9 296.5C1736.7 296.8 1738.0 301.6 1739.2 303.5C1740.5 305.4 1742.2 308.5 1743.4 307.7C1744.7 306.9 1745.6 300.7 1746.8 298.5C1747.9 296.3 1749.1 296.6 1750.1 294.3C1751.1 292.1 1751.8 287.0 1752.6 285.2C1753.4 283.3 1754.1 282.5 1755.1 283.1C1756.1 283.8 1757.3 286.8 1758.4 289.3C1759.6 291.9 1760.8 295.9 1761.8 298.5C1762.8 301.1 1763.2 304.9 1764.3 305.2C1765.4 305.5 1767.3 300.5 1768.5 300.2C1769.6 299.9 1770.1 300.5 1771.0 303.5C1771.8 306.5 1772.6 313.9 1773.5 318.4C1774.3 322.8 1775.0 329.6 1776.0 330.1C1776.9 330.5 1778.2 320.7 1779.3 320.9C1780.4 321.0 1781.4 330.6 1782.6 330.9C1783.9 331.2 1785.5 325.5 1786.8 322.5C1788.1 319.6 1789.4 313.2 1790.5 313.0C1791.6 312.9 1792.4 319.4 1793.5 321.7C1794.6 324.0 1795.7 324.8 1796.8 326.7C1797.9 328.7 1799.2 330.6 1800.2 333.4C1801.1 336.2 1801.8 339.5 1802.7 343.4C1803.5 347.3 1804.2 353.4 1805.2 356.8C1806.2 360.2 1807.3 363.1 1808.5 363.8C1809.8 364.5 1811.4 360.2 1812.7 360.9C1813.9 361.7 1814.9 365.0 1816.0 368.4C1817.1 371.9 1818.2 378.2 1819.4 381.8C1820.6 385.4 1822.1 390.7 1823.2 390.2C1824.3 389.6 1824.9 379.9 1826.1 378.5C1827.2 377.1 1829.0 383.2 1830.2 381.8C1831.5 380.4 1832.3 372.3 1833.6 370.1C1834.8 367.9 1836.6 366.2 1837.7 368.4C1838.9 370.7 1839.5 380.6 1840.2 383.5C1840.9 386.4 1841.2 388.5 1841.9 386.0C1842.6 383.5 1843.4 372.9 1844.4 368.4C1845.4 364.0 1846.6 360.2 1847.8 359.3C1848.9 358.3 1849.8 360.1 1851.1 362.6C1852.3 365.1 1853.9 373.0 1855.3 374.3C1856.7 375.5 1858.2 372.1 1859.4 370.1C1860.7 368.2 1861.5 363.6 1862.8 362.6C1864.0 361.6 1865.6 364.2 1867.0 364.3C1868.3 364.4 1869.9 361.6 1871.1 363.1C1872.4 364.6 1873.4 369.8 1874.5 373.5C1875.6 377.1 1876.7 384.0 1877.8 385.1C1878.9 386.3 1879.9 380.2 1881.1 380.1C1882.3 380.1 1884.3 384.0 1885.0 384.8" fill="none" stroke="#efc75e" stroke-width="3.1" stroke-linejoin="round" stroke-linecap="round"/>
<g font-size="17" fill="#e9ebee">
<rect x="826" y="143" width="14" height="14" fill="#5fc88a"/><text x="851.5" y="155">Entrée</text>
<rect x="920" y="143" width="14" height="14" fill="#e25566"/><text x="945.5" y="155">Sorties</text>
<rect x="1017.5" y="143" width="14" height="14" fill="#e8bc5c"/><text x="1039.7" y="155" textLength="62.4" lengthAdjust="spacingAndGlyphs">Prix BTC</text>
</g>
<g fill="#fff" opacity="0.655">
<ellipse cx="1675.9" cy="502" rx="12.5" ry="10.9"/>
<path d="M1666 495L1660.2 498.9Q1659.3 500.9 1661.6 501.2L1666 502z"/>
<path d="M1686 495L1691.6 497.9Q1692.6 500.2 1690.4 500.7L1686 502z"/>
<path d="M1667.3 494.5L1668.2 489.5L1671.2 492.5z"/>
<path d="M1684.6 494.5L1684.1 489.5L1681.2 492.5z"/>
<rect x="1666.2" y="508" width="20.6" height="13" rx="4.6"/>
<rect x="1671.2" y="515" width="5.5" height="10.8" rx="2.4"/>
<rect x="1678" y="515" width="5.5" height="10.8" rx="2.4"/>
<path d="M1669.5 520.6L1664.8 524.3L1665.3 525.1L1670.5 522z"/>
<text x="1700.1" y="515.5" font-size="25.6" font-weight="700" textLength="100.4" lengthAdjust="spacingAndGlyphs" stroke="#fff" stroke-width="0.5">coinglass</text>
</g>
<rect x="1917.2" y="640" width="8" height="38.5" rx="3" fill="#202226"/>
</svg>
</body></html>
